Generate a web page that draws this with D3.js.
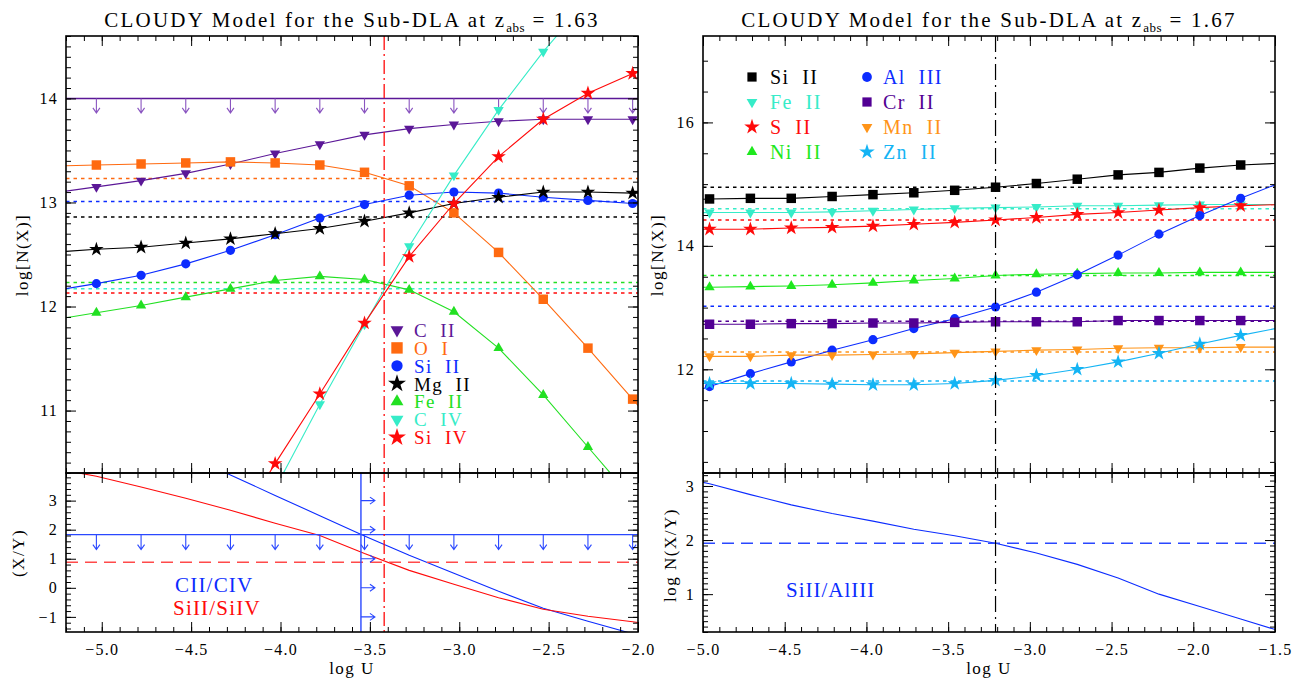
<!DOCTYPE html>
<html><head><meta charset="utf-8">
<script src="https://cdn.jsdelivr.net/npm/d3@7"></script>
<style>
body{margin:0;background:#fff;}
</style></head><body>
<svg id="c" width="1303" height="681"></svg>
<script>
// ===================== DATA =====================
// ---- Left: z_abs = 1.63 ----
const namesL = ["C  II","O  I","Si  II","Mg  II","Fe  II","C  IV","Si  IV"];
const gridL  = [-5.28,-5.03,-4.78,-4.53,-4.28,-4.03,-3.78,-3.53,-3.28,-3.03,-2.78,-2.53,-2.28,-2.03,-1.78];
const nCII   = [13.09,13.15,13.21,13.28,13.37,13.47,13.56,13.65,13.71,13.75,13.78,13.80,13.80,13.80,13.80];
const nOI    = [13.35,13.36,13.37,13.38,13.39,13.38,13.36,13.29,13.16,12.90,12.52,12.07,11.60,11.11,10.60];
const nSiII  = [12.15,12.22,12.30,12.41,12.54,12.69,12.85,12.98,13.07,13.10,13.09,13.05,13.02,12.99,12.96];
const nMgII  = [12.52,12.55,12.57,12.61,12.65,12.70,12.75,12.82,12.90,12.99,13.05,13.10,13.10,13.09,13.08];
const nFeII  = [11.87,11.94,12.01,12.09,12.17,12.25,12.29,12.26,12.16,11.95,11.60,11.15,10.65,10.15,9.70];
const nCIV   = [null,null,null,null,null,10.25,11.06,11.83,12.58,13.26,13.89,14.45,14.95,15.40,null];
const nSiIV  = [null,null,null,null,9.80,10.49,11.16,11.84,12.48,12.99,13.44,13.80,14.05,14.24,14.40];
const obsL   = [null,13.23,13.01,12.86,12.23,12.17,12.13];
const limitCII = 14.0;
const ratioCIICIV   = [null,null,null,4.60,3.88,3.18,2.48,1.78,1.12,0.50,-0.12,-0.70,-1.15,-1.58,null];
const ratioSiIISiIV = [4.12,3.84,3.47,3.08,2.67,2.22,1.80,1.18,0.60,0.12,-0.34,-0.74,-0.98,-1.17,-1.35];
const limitCIICIV = 1.83;
const obsSiIISiIV = 0.88;
const limitLogUL  = -3.55;
const bestLogUL   = -3.42;
const arrowLevelsL = [3,2,1,0,-1];
const ratioNamesL = ["CII/CIV","SiII/SiIV"];

// ---- Right: z_abs = 1.67 ----
const namesR = ["Si  II","Fe  II","S  II","Ni  II","Al  III","Cr  II","Mn  II","Zn  II"];
const gridR  = [-5.21,-4.96,-4.71,-4.46,-4.21,-3.96,-3.71,-3.46,-3.21,-2.96,-2.71,-2.46,-2.21,-1.96,-1.71,-1.46];
const rSiII  = [14.73,14.76,14.77,14.77,14.80,14.83,14.86,14.90,14.95,15.01,15.08,15.15,15.19,15.26,15.31,15.34];
const rFeII  = [14.53,14.54,14.54,14.54,14.55,14.57,14.59,14.61,14.62,14.63,14.65,14.65,14.66,14.67,14.67,14.67];
const rSII   = [14.27,14.27,14.27,14.29,14.30,14.32,14.35,14.38,14.42,14.46,14.51,14.54,14.58,14.62,14.65,14.67];
const rNiII  = [13.32,13.33,13.34,13.35,13.37,13.40,13.44,13.47,13.52,13.54,13.55,13.56,13.56,13.57,13.57,13.57];
const rAlIII = [11.51,11.72,11.93,12.12,12.31,12.48,12.66,12.82,13.01,13.25,13.53,13.85,14.19,14.49,14.77,15.03];
const rCrII  = [12.72,12.73,12.73,12.74,12.74,12.75,12.75,12.76,12.77,12.77,12.77,12.79,12.79,12.79,12.79,12.79];
const rMnII  = [12.20,12.21,12.21,12.23,12.23,12.24,12.25,12.27,12.29,12.31,12.32,12.34,12.35,12.35,12.36,12.36];
const rZnII  = [11.77,11.77,11.77,11.77,11.76,11.75,11.75,11.77,11.82,11.90,12.00,12.12,12.26,12.41,12.55,12.68];
const obsR   = [14.95,14.60,14.42,13.52,13.02,12.78,12.28,11.81];
const ratioSiIIAlIII = [3.20,3.04,2.84,2.65,2.49,2.35,2.20,2.08,1.94,1.76,1.55,1.30,1.00,0.77,0.54,0.31];
const obsSiIIAlIII = 1.94;
const bestLogUR = -3.21;
const ratioNameR = "SiII/AlIII";

const titles = [["CLOUDY Model for the Sub-DLA at z","abs"," = 1.63"],["CLOUDY Model for the Sub-DLA at z","abs"," = 1.67"]];

// ===================== STYLE / LAYOUT =====================
const F = '"Liberation Serif","DejaVu Serif",serif';
const svg = d3.select("#c");
const C = {purple:"#5b1797", orange:"#ff6a10", blue:"#0c2cff", black:"#000", green:"#22e022",
           cyan:"#36ecc8", red:"#ff0a0a", indigo:"#520094", gold:"#ff9418", sky:"#14b4f4"};
const SYM = {sq:{t:d3.symbolSquare,s:90}, ci:{t:d3.symbolCircle,s:66}, st:{t:d3.symbolStar,s:66},
             tu:{t:d3.symbolTriangle,s:46}, td:{t:d3.symbolTriangle,s:46,rot:true}};

function ticksBetween(lo, hi, step){
  const a = Math.ceil(Math.min(lo,hi)/step - 1e-6), b = Math.floor(Math.max(lo,hi)/step + 1e-6);
  return d3.range(a, b+1).map(k => +(k*step).toFixed(6));
}
function addAxis(g, axis, tx, ty, fs){
  const a = g.append("g").attr("transform", `translate(${tx},${ty})`).call(axis);
  a.select(".domain").remove();
  a.attr("color","#000").attr("font-family",F).attr("font-size",fs||16);
  a.selectAll("line").attr("stroke-width",1);
  a.selectAll("text").attr("letter-spacing","1.2px");
  return a;
}
function frameAxes(g, x, y, o){
  const [L,R] = x.range(), [B,T] = y.range();
  const xd = x.domain(), yd = y.domain();
  const xMin = ticksBetween(xd[0],xd[1],o.xMinor), xMaj = ticksBetween(xd[0],xd[1],o.xMajor);
  const yMin = ticksBetween(yd[0],yd[1],o.yMinor), yMaj = ticksBetween(yd[0],yd[1],o.yMajor);
  addAxis(g, d3.axisBottom(x).tickValues(xMin).tickSize(-5).tickFormat(""), 0, B);
  addAxis(g, d3.axisTop(x).tickValues(xMin).tickSize(-5).tickFormat(""), 0, T);
  addAxis(g, d3.axisBottom(x).tickValues(xMaj).tickSize(-10).tickPadding(12)
      .tickFormat(o.xLabels ? d3.format(".1f") : ""), 0, B);
  addAxis(g, d3.axisTop(x).tickValues(xMaj).tickSize(-10).tickFormat(""), 0, T);
  addAxis(g, d3.axisLeft(y).tickValues(yMin).tickSize(-5).tickFormat(""), L, 0);
  addAxis(g, d3.axisRight(y).tickValues(yMin).tickSize(-5).tickFormat(""), R, 0);
  addAxis(g, d3.axisLeft(y).tickValues(yMaj).tickSize(-10).tickPadding(8).tickFormat(d3.format("d")), L, 0);
  addAxis(g, d3.axisRight(y).tickValues(yMaj).tickSize(-10).tickFormat(""), R, 0);
  g.append("rect").attr("x",L).attr("y",T).attr("width",R-L).attr("height",B-T)
    .attr("fill","none").attr("stroke","#000").attr("stroke-width",1.6);
}
let clipId = 0;
function clipGroup(g, x, y){
  const id = "clip"+(clipId++);
  const [L,R] = x.range(), [B,T] = y.range();
  g.append("clipPath").attr("id",id).append("rect").attr("x",L).attr("y",T).attr("width",R-L).attr("height",B-T);
  return g.append("g").attr("clip-path",`url(#${id})`);
}
function drawSeries(g, x, y, grid, vals, color, symKey, withMarkers){
  const pts = grid.map((u,i)=>[u, vals[i]]);
  g.append("path").datum(pts)
    .attr("d", d3.line().defined(d=>d[1]!=null).x(d=>x(d[0])).y(d=>y(d[1])))
    .attr("fill","none").attr("stroke",color).attr("stroke-width",1.1);
  if(!withMarkers) return;
  const s = SYM[symKey];
  g.selectAll(null).data(pts.filter(d=>d[1]!=null)).join("path")
    .attr("transform", d=>`translate(${x(d[0])},${y(d[1])})${s.rot?" rotate(180)":""}`)
    .attr("d", d3.symbol(s.t, s.s)()).attr("fill", color);
}
function hline(g, x, y, v, color, dash, w){
  const [L,R] = x.range();
  g.append("line").attr("x1",L).attr("x2",R).attr("y1",y(v)).attr("y2",y(v))
    .attr("stroke",color).attr("stroke-width",w||1.4).attr("stroke-dasharray",dash||null);
}
function arrowDown(g, px, py, len, color){
  g.append("path").attr("d",`M${px},${py}V${py+len}M${px-3.5},${py+len-5}L${px},${py+len}L${px+3.5},${py+len-5}`)
    .attr("fill","none").attr("stroke",color).attr("stroke-width",1.1);
}
function arrowRight(g, px, py, len, color){
  g.append("path").attr("d",`M${px},${py}H${px+len}M${px+len-5},${py-3.5}L${px+len},${py}L${px+len-5},${py+3.5}`)
    .attr("fill","none").attr("stroke",color).attr("stroke-width",1.1);
}
function legendItem(g, sx, tx, cy, color, symKey, size, label, fs){
  const s = SYM[symKey];
  g.append("path").attr("transform",`translate(${sx},${cy})${s.rot?" rotate(180)":""}`)
    .attr("d", d3.symbol(s.t, size)()).attr("fill",color);
  g.append("text").attr("x",tx).attr("y",cy).attr("dy","0.36em").attr("fill",color)
    .attr("font-family",F).attr("font-size",fs).attr("letter-spacing","1.4px")
    .text(label.replace(/ /g,"\u00a0"));
}
function title(cx, parts){
  const t = svg.append("text").attr("x",cx).attr("y",27).attr("text-anchor","middle")
    .attr("font-family",F).attr("font-size",21).attr("letter-spacing","2.2px").attr("fill","#000");
  t.append("tspan").text(parts[0]);
  t.append("tspan").attr("font-size",13).attr("dy",5).attr("letter-spacing","0.5px").text(parts[1]);
  t.append("tspan").attr("dy",-5).text(parts[2].replace(/ /g,"\u00a0"));
}
function vlabel(x, y, txt, fs){
  svg.append("text").attr("transform",`translate(${x},${y}) rotate(-90)`).attr("text-anchor","middle")
    .attr("dy","0.35em").attr("font-family",F).attr("font-size",fs||17).attr("letter-spacing","1.5px").text(txt);
}
function xlabel(x, txt){
  svg.append("text").attr("x",x).attr("y",674).attr("text-anchor","middle")
    .attr("font-family",F).attr("font-size",17).attr("letter-spacing","1.5px").text(txt.replace(/ /g,"\u00a0"));
}

// ===================== LEFT FIGURE =====================
{
  const x  = d3.scaleLinear([-5.2,-2.0],[66,638]);
  const yT = d3.scaleLinear([10.4,14.6],[473,36]);
  const yB = d3.scaleLinear([-1.52,3.95],[632,473]);
  const g = svg.append("g");
  const cT = clipGroup(g, x, yT), cB = clipGroup(g, x, yB);
  const inFrame = gridL.filter(u => u >= x.domain()[0] && u <= x.domain()[1]);

  // observed column densities (dotted)
  const colsL = [C.purple,C.orange,C.blue,C.black,C.green,C.cyan,C.red];
  obsL.forEach((v,i)=>{ if(v!=null) hline(cT, x, yT, v, colsL[i], "3.5,4", 1.5); });
  // C II upper limit
  hline(cT, x, yT, limitCII, C.purple, null, 1.4);
  inFrame.forEach(u => arrowDown(cT, x(u), yT(limitCII), 14.5, "#8a55c0"));

  const seriesL = [[nCII,"td"],[nOI,"sq"],[nSiII,"ci"],[nMgII,"st"],[nFeII,"tu"],[nCIV,"td"],[nSiIV,"st"]];
  seriesL.forEach((s,i)=> drawSeries(cT, x, yT, gridL, s[0], colsL[i], s[1], true));

  // legend
  const legSyms = ["td","sq","ci","st","tu","td","st"];
  const legSize = {td:72,sq:130,ci:100,st:100,tu:72};
  namesL.forEach((n,i)=> legendItem(g, 397, 414, 330 + i*17.9, colsL[i], legSyms[i], legSize[legSyms[i]], n, 19));

  // bottom panel: ratios
  drawSeries(cB, x, yB, gridL, ratioCIICIV, C.blue, null, false);
  drawSeries(cB, x, yB, gridL, ratioSiIISiIV, C.red, null, false);
  hline(cB, x, yB, limitCIICIV, "#2a48ff", null, 1.4);
  inFrame.forEach(u => arrowDown(cB, x(u), yB(limitCIICIV), 15, "#2a48ff"));
  hline(cB, x, yB, obsSiIISiIV, "#ff4a4a", "12,7", 1.5);
  cB.append("line").attr("x1",x(limitLogUL)).attr("x2",x(limitLogUL)).attr("y1",yB.range()[1]).attr("y2",yB.range()[0])
    .attr("stroke","#2a48ff").attr("stroke-width",1.4);
  arrowLevelsL.forEach(v => arrowRight(cB, x(limitLogUL), yB(v), 14, "#2a48ff"));
  // best-fit log U (both panels)
  g.append("line").attr("x1",x(bestLogUL)).attr("x2",x(bestLogUL)).attr("y1",36).attr("y2",632)
    .attr("stroke",C.red).attr("stroke-width",1.3).attr("stroke-dasharray","14,4,2,4");

  g.append("text").attr("x",175).attr("y",592).attr("fill",C.blue).attr("font-family",F).attr("font-size",21)
    .attr("letter-spacing","1.2px").text(ratioNamesL[0]);
  g.append("text").attr("x",173).attr("y",615).attr("fill",C.red).attr("font-family",F).attr("font-size",21)
    .attr("letter-spacing","1.2px").text(ratioNamesL[1]);

  frameAxes(g, x, yT, {xMinor:0.1, xMajor:0.5, yMinor:0.1, yMajor:1, xLabels:false});
  frameAxes(g, x, yB, {xMinor:0.1, xMajor:0.5, yMinor:0.2, yMajor:1, xLabels:true});

  title(352, titles[0]);
  vlabel(22, 255, "log[N(X)]");
  vlabel(18, 553, "(X/Y)");
  xlabel(352, "log U");
}

// ===================== RIGHT FIGURE =====================
{
  const x  = d3.scaleLinear([-5.0,-1.5],[703,1275]);
  const yT = d3.scaleLinear([10.32,17.4],[473,36]);
  const yB = d3.scaleLinear([0.3,3.24],[632,473]);
  const g = svg.append("g");
  const cT = clipGroup(g, x, yT), cB = clipGroup(g, x, yB);

  const colsR = [C.black,C.cyan,C.red,"#1ee81e",C.blue,C.indigo,C.gold,C.sky];
  const symsR = ["sq","td","st","tu","ci","sq","td","st"];
  obsR.forEach((v,i)=> hline(cT, x, yT, v, colsR[i], "3.5,4", 1.5));
  const seriesR = [rSiII,rFeII,rSII,rNiII,rAlIII,rCrII,rMnII,rZnII];
  seriesR.forEach((s,i)=> drawSeries(cT, x, yT, gridR, s, colsR[i], symsR[i], true));

  const legSize = {td:50,sq:85,ci:75,st:75,tu:50};
  namesR.forEach((n,i)=>{
    const col = Math.floor(i/4), row = i%4;
    legendItem(g, col ? 867 : 752, col ? 883 : 770, 77 + row*25, colsR[i], symsR[i], legSize[symsR[i]], n, 20);
  });

  drawSeries(cB, x, yB, gridR, ratioSiIIAlIII, C.blue, null, false);
  hline(cB, x, yB, obsSiIIAlIII, "#2a48ff", "12,7", 1.4);
  g.append("line").attr("x1",x(bestLogUR)).attr("x2",x(bestLogUR)).attr("y1",36).attr("y2",632)
    .attr("stroke","#000").attr("stroke-width",1.2).attr("stroke-dasharray","16,5,2,5");
  g.append("text").attr("x",786).attr("y",597).attr("fill",C.blue).attr("font-family",F).attr("font-size",21)
    .attr("letter-spacing","1px").text(ratioNameR);

  frameAxes(g, x, yT, {xMinor:0.1, xMajor:0.5, yMinor:0.5, yMajor:2, xLabels:false});
  frameAxes(g, x, yB, {xMinor:0.1, xMajor:0.5, yMinor:0.1, yMajor:1, xLabels:true});

  title(989, titles[1]);
  vlabel(657, 255, "log[N(X)]");
  vlabel(670, 555, "log N(X/Y)");
  xlabel(989, "log U");
}
</script></body></html>
